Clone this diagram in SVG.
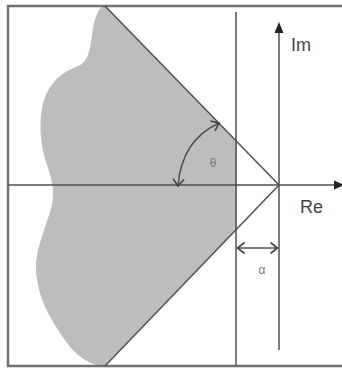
<svg xmlns="http://www.w3.org/2000/svg" width="342" height="368" viewBox="0 0 342 368">
<style>
.ln{stroke:#505050;stroke-width:1.5;fill:none}
.fr{stroke:#707070;stroke-width:2.5;fill:none}
.lab{font-family:"Liberation Sans",Arial,sans-serif;fill:#444}
.sm{font-family:"Liberation Sans",Arial,sans-serif;fill:#777;font-size:12px}
</style>
<defs>
<marker id="chev" markerUnits="userSpaceOnUse" markerWidth="14" markerHeight="14" refX="8" refY="6" orient="auto-start-reverse" viewBox="0 0 14 12">
<path d="M1,0.5 L8,6 L1,11.5" fill="none" stroke="#404040" stroke-width="1.6"/>
</marker>
</defs>
<rect width="342" height="368" fill="#fff"/>
<g id="region">
<path d="M105,6 L237,142.6 L237,228 L105,366 C90,366 75,355 65,340 C50,318 38,300 36,270 C35,250 45,230 52,205 C55,190 52,180 47,165 C40,145 38,120 44,100 C50,82 62,72 78,66 C88,62 90,50 92,35 C94,20 97,10 103,6 Z" fill="#bdbdbd"/>
</g>
<g id="frame">
<path class="fr" d="M346,6 L8,6 L8,366 L346,366"/>
</g>
<g id="connectors">
<line class="ln" x1="8" y1="185" x2="336" y2="185"/>
<polygon points="334,180.5 344,185 334,189.5" fill="#222"/>
<line class="ln" x1="279" y1="350" x2="279" y2="30"/>
<polygon points="274.5,33 279,22 283.5,33" fill="#222"/>
<line class="ln" x1="236" y1="12" x2="236" y2="366"/>
<line class="ln" x1="105" y1="6" x2="279" y2="185"/>
<line class="ln" x1="279" y1="185" x2="105" y2="366"/>
<path class="ln" d="M219,123 C204,130 181,145 178,186" stroke="#404040" marker-start="url(#chev)" marker-end="url(#chev)"/>
<line class="ln" x1="237.5" y1="248" x2="277.5" y2="248" stroke="#404040" marker-start="url(#chev)" marker-end="url(#chev)"/>
</g>
<g id="labels">
<text class="lab" x="291" y="51" font-size="18">Im</text>
<text class="lab" x="300" y="213" font-size="18">Re</text>
<text class="sm" x="213" y="167" text-anchor="middle">θ</text>
<text class="sm" x="262" y="274" text-anchor="middle">α</text>
</g>
</svg>
